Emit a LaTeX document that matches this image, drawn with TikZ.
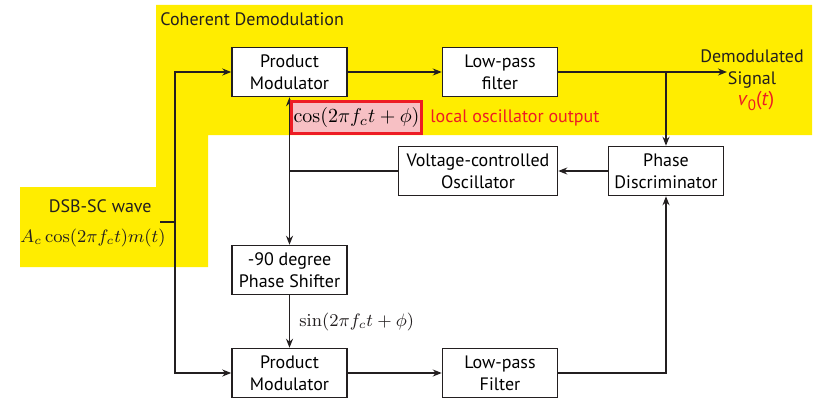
\documentclass[tikz,border=0pt]{standalone}
\usepackage[no-math]{fontspec}
\setmainfont{PT Sans}
\usetikzlibrary{arrows.meta}
\definecolor{bandyel}{RGB}{255,237,0}
\definecolor{loredfill}{RGB}{247,192,196}
\definecolor{lored}{RGB}{237,28,36}
\definecolor{lineclr}{RGB}{35,31,32}
\tikzset{
  % Bloklar
  blkbox/.style   = {draw=lineclr, line width=0.75pt, fill=white, align=center,
                     minimum width=57.5pt, minimum height=24.5pt, inner sep=1pt,
                     font=\fontsize{9}{11}\selectfont},
  % Signal chiziqlari
  sigline/.style  = {draw=lineclr, line width=0.75pt},
  sigarrow/.style = {sigline, -{Stealth[length=4.5pt,width=3.5pt]}},
  % Etiketlar
  lab/.style      = {font=\fontsize{9}{11}\selectfont, inner sep=1pt, text=lineclr},
  redlab/.style   = {lab, text=lored},
}

\begin{document}
\begin{tikzpicture}[x=0.5pt,y=-0.5pt]
  \useasboundingbox (0,0) rectangle (823,401);
  % Sariq fon
  \fill[bandyel] (156,5) -- (812,5) -- (812,135) -- (208,135) -- (208,267)
    -- (20,267) -- (20,187) -- (156,187) -- cycle;
  \node[lab, anchor=west] (title) at (158,19) {Coherent Demodulation};
  % Bloklar
  \node[blkbox] (pmA) at (289.5,72) {Product\\Modulator};
  \node[blkbox] (lpfA) at (500,72) {Low-pass\\filter};
  \node[blkbox, minimum width=79.5pt] (vco) at (478,171) {Voltage-controlled\\Oscillator};
  \node[blkbox] (pd) at (666,171) {Phase\\Discriminator};
  \node[blkbox] (shift) at (289.5,270) {-90 degree\\Phase Shifter};
  \node[blkbox] (pmB) at (289.5,373) {Product\\Modulator};
  \node[blkbox] (lpfB) at (500,373) {Low-pass\\Filter};
  % Nuqtalar
  \coordinate (dsb) at (160,222);
  \coordinate (inp) at (175,222);
  \coordinate (tap) at (666,72);
  \coordinate (outpt) at (727,72);
  \coordinate (lo) at (pmA.south |- vco.west);
  % Ulanishlar
  \draw[sigline] (dsb) -- (inp);
  \draw[sigarrow] (inp) |- (pmA.west);
  \draw[sigarrow] (inp) |- (pmB.west);
  \draw[sigarrow] (pmA.east) -- (lpfA.west);
  \draw[sigarrow] (lpfA.east) -- (outpt);
  \draw[sigarrow] (tap) -- (pd.north);
  \draw[sigarrow] (pd.west) -- (vco.east);
  \draw[sigline] (vco.west) -- (lo);
  \draw[sigarrow] (lo) -- (pmA.south);
  \draw[sigarrow] (lo) -- (shift.north);
  \draw[sigarrow] (shift.south) -- (pmB.north);
  \draw[sigarrow] (pmB.east) -- (lpfB.west);
  \draw[sigarrow] (lpfB.east) -| (pd.south);
  % Etiketlar
  \node[draw=lored, line width=1.5pt, fill=loredfill, minimum width=62.5pt,
        minimum height=15.5pt, inner sep=1pt] (locos) at (356.5,117.5)
        {$\cos(2\pi f_c t+\phi)$};
  \node[redlab, anchor=west] (loslab) at (428,118) {local oscillator output};
  \node[lab, align=center] (outlbl) at (752,69) {Demodulated\\Signal};
  \node[redlab, font=\fontsize{10}{12}\selectfont] (vout) at (756,101)
        {\textit{v}\raisebox{-0.5ex}{\fontsize{7.5}{8}\selectfont 0}(\textit{t})};
  \node[lab, anchor=east] (dsblab) at (154,206) {DSB-SC wave};
  \node[lab] (dsbeq) at (93,238) {$A_c\cos(2\pi f_c t)m(t)$};
  \node[lab, anchor=west] (sinlab) at (297,322) {$\sin(2\pi f_c t+\phi)$};
\end{tikzpicture}
\end{document}
